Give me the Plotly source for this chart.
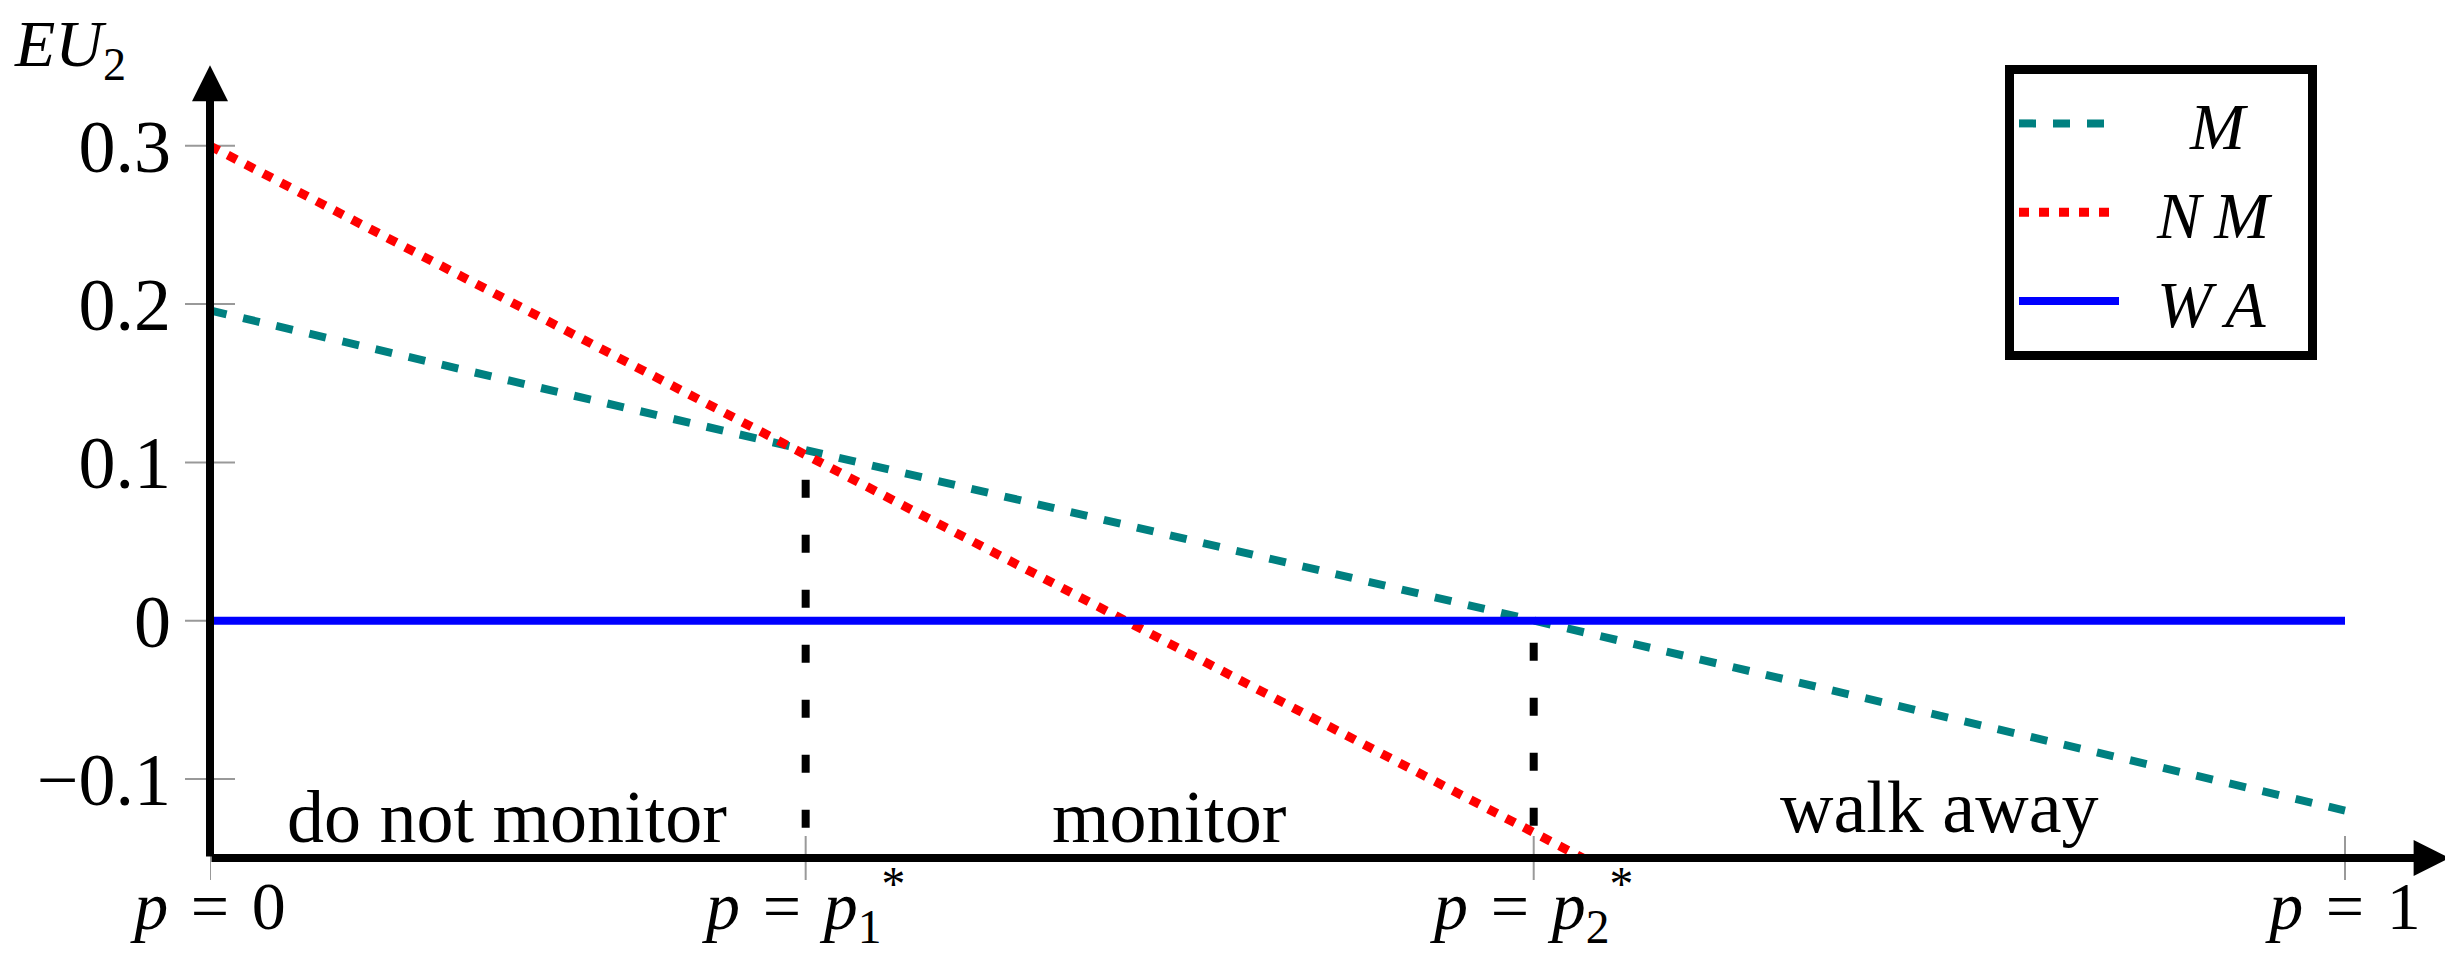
import plotly.graph_objects as go

# ---- data ----
p_line = [0, 1]
M_vals = [0.196, -0.12]
p_nm = [0, 0.643]
NM_vals = [0.3, -0.15]
WA_vals = [0, 0]
p1_star = 0.279
p2_star = 0.62
p1_top = 0.089
p2_top = -0.014
y_ticks = [-0.1, 0, 0.1, 0.2, 0.3]
y_ticktext = ["\u22120.1", "0", "0.1", "0.2", "0.3"]
x_ticks = [0, p1_star, p2_star, 1]
x_ticktext = ["<i>p</i>\u2004=\u20040",
              "<i>p</i>\u2004=\u2004<i>p</i><sub>1</sub><sup>*</sup>",
              "<i>p</i>\u2004=\u2004<i>p</i><sub>2</sub><sup>*</sup>",
              "<i>p</i>\u2004=\u20041"]
series_names = ["\u2003<i>M</i>", "\u2002<i>N\u2009M</i>\u2002", "\u2002<i>W\u2009A</i>\u2002"]
regions = ["do not monitor", "monitor", "walk away"]
region_x = [0.139, 0.449, 0.810]
region_y = [-0.124, -0.124, -0.118]

W, H = 2437, 949
L, R, T, B = 202, 0, 30, 99
PW, PH = W - L - R, H - T - B
XPU = 2135.0  # px per x unit
YPU = 1582.5  # px per y unit
Y0 = -0.15
xr = [0, PW / XPU]
yr = [Y0, Y0 + PH / YPU]

FONT = "Liberation Serif, Times New Roman, serif"
TEAL = "#008080"

fig = go.Figure()
fig.add_trace(go.Scatter(x=p_line, y=M_vals, mode="lines", name=series_names[0],
                         line=dict(color=TEAL, width=8, dash="17px,17px")))
fig.add_trace(go.Scatter(x=p_nm, y=NM_vals, mode="lines", name=series_names[1],
                         line=dict(color="#ff0000", width=9, dash="10px,10px")))
fig.add_trace(go.Scatter(x=p_line, y=WA_vals, mode="lines", name=series_names[2],
                         line=dict(color="#0000ff", width=8)))

# vertical dashed separators
for px_, top in [(p1_star, p1_top), (p2_star, p2_top)]:
    fig.add_trace(go.Scatter(x=[px_, px_], y=[top, Y0], mode="lines", showlegend=False,
                             line=dict(color="black", width=8, dash="18px,37px"),
                             hoverinfo="skip"))

shapes = []
for yv in y_ticks:
    shapes.append(dict(type="line", xref="paper", yref="y", x0=-25 / PW, x1=25 / PW,
                       y0=yv, y1=yv, line=dict(color="#999999", width=2), layer="below"))
for xv in x_ticks:
    shapes.append(dict(type="line", xref="x", yref="paper", x0=xv, x1=xv,
                       y0=-22 / PH, y1=22 / PH, line=dict(color="#999999", width=2), layer="below"))

annotations = [
    # x axis arrow
    dict(x=1.049, y=Y0, ax=0, ay=Y0, xref="x", yref="y", axref="x", ayref="y",
         text="", showarrow=True, arrowhead=2, arrowsize=0.9, arrowwidth=8,
         arrowcolor="black", standoff=0, startstandoff=0),
    # y axis arrow
    dict(x=0, y=0.351, ax=0, ay=Y0, xref="x", yref="y", axref="x", ayref="y",
         text="", showarrow=True, arrowhead=2, arrowsize=0.9, arrowwidth=8,
         arrowcolor="black", standoff=0, startstandoff=0),
    dict(x=(62 - L) / PW, y=1 - (40 - T) / PH, xref="paper", yref="paper",
         text="<i>EU</i><sub>2</sub>", showarrow=False, font=dict(size=66, family=FONT, color="black"),
         xanchor="center", yanchor="middle"),
]
for name, rx, ry in zip(regions, region_x, region_y):
    annotations.append(dict(x=rx, y=ry, xref="x", yref="y", text=name, showarrow=False,
                            font=dict(size=74, family=FONT, color="black"),
                            xanchor="center", yanchor="middle"))

fig.update_layout(
    width=W, height=H,
    margin=dict(l=L, r=R, t=T, b=B, pad=0),
    paper_bgcolor="white", plot_bgcolor="white",
    font=dict(family=FONT, size=74, color="black"),
    xaxis=dict(range=xr, showgrid=False, zeroline=False, showline=False, ticks="",
               tickvals=x_ticks, ticktext=x_ticktext, ticklabelstandoff=2,
               tickfont=dict(size=68, family=FONT, color="black"), automargin=False),
    yaxis=dict(range=yr, showgrid=False, zeroline=False, showline=False, ticks="",
               tickvals=y_ticks, ticktext=y_ticktext, ticklabelstandoff=38,
               tickfont=dict(size=74, family=FONT, color="black"), automargin=False),
    legend=dict(x=(1997 - L) / PW, y=1 - (57 - T) / PH, xanchor="left", yanchor="top",
                bordercolor="black", borderwidth=9, bgcolor="white",
                font=dict(size=66, family=FONT, color="black"), itemwidth=100,
                tracegroupgap=0),
    shapes=shapes, annotations=annotations,
    showlegend=True,
)

fig.write_html("out.html")
